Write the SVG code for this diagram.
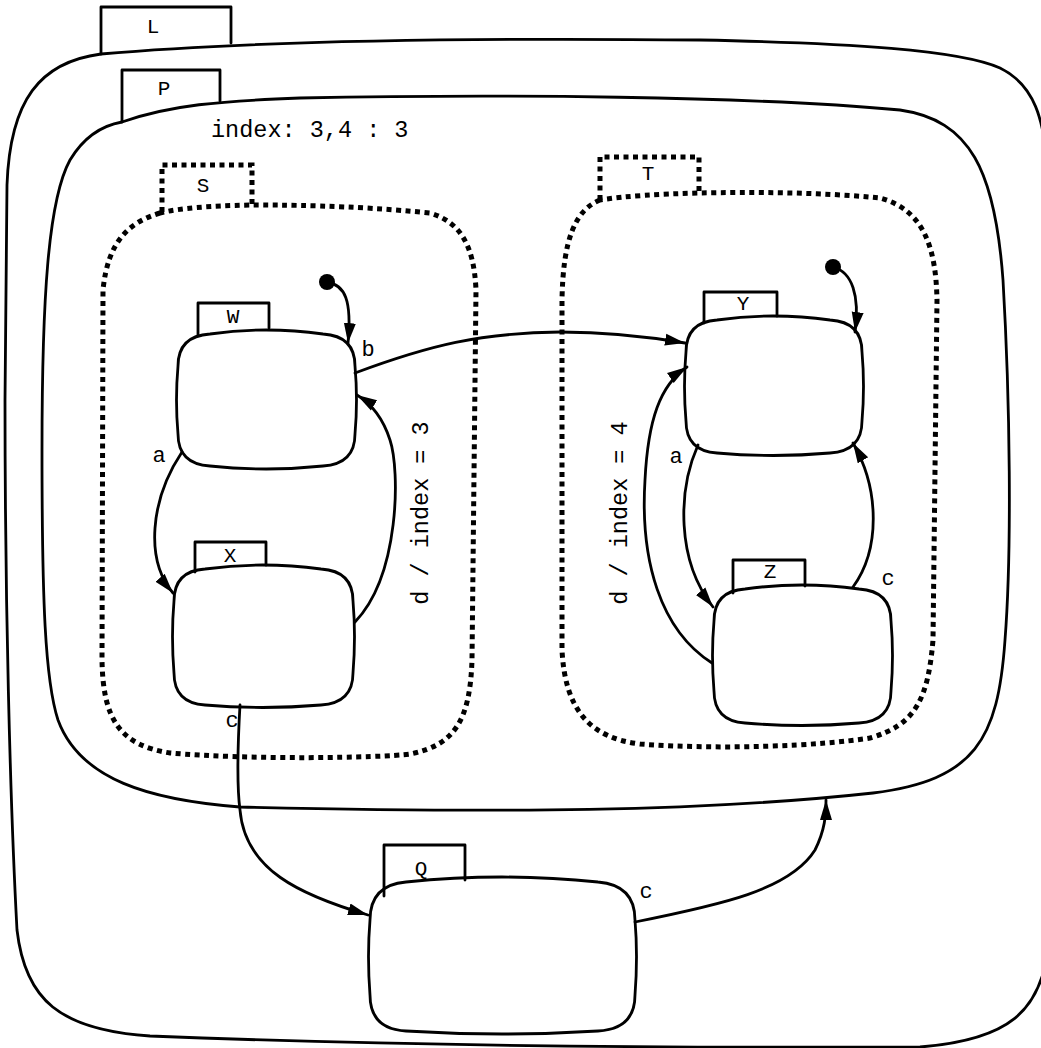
<svg xmlns="http://www.w3.org/2000/svg" width="1041" height="1048" viewBox="0 0 1041 1048">
<style>
.ln{fill:none;stroke:#000;stroke-width:2.8;stroke-linejoin:round;stroke-linecap:round}
.dt{fill:none;stroke:#000;stroke-width:5;stroke-dasharray:5 4.5}
.st{fill:#fff;stroke:#000;stroke-width:2.8}
.t{font-family:"Liberation Mono","Courier New",monospace;font-size:23.5px;fill:#000}
.tb{font-family:"Liberation Mono","Courier New",monospace;font-size:21px;fill:#000;text-anchor:middle}
.s{font-family:"Liberation Mono","Courier New",monospace;font-size:22px;fill:#000;text-anchor:middle}
</style>
<defs>
<marker id="ah" markerWidth="22" markerHeight="14" refX="20" refY="7" orient="auto" markerUnits="userSpaceOnUse"><path d="M0,1 L20,7 L0,13 Z" fill="#000"/></marker>
</defs>
<rect width="1041" height="1048" fill="#fff"/>

<g id="L">
<path class="ln" d="M101,54 C260,40 500,38 700,40 C850,43 960,50 1000,68 C1035,85 1044,120 1048,170 L1048,950 C1040,1010 1010,1040 920,1047 C700,1048 400,1046 150,1036 C60,1030 25,1000 17,930 C10,800 5,600 5,400 L7,185 C10,100 40,62 101,54 Z"/>
<path class="ln" d="M101,54 V7 H231 V43"/>
<text class="tb" x="153" y="33">L</text>
</g>

<g id="P">
<path class="ln" d="M122,122 C170,105 220,101 300,98 C500,94 750,96 900,110 C970,120 995,170 1003,280 C1010,400 1012,550 1005,640 C998,740 975,780 873,793 C700,812 500,813 240,807 C150,800 80,780 58,720 C45,680 42,600 42,450 C42,300 48,200 70,160 C85,135 105,125 122,122 Z"/>
<path class="ln" d="M122,122 V70 H220 V101"/>
<text class="tb" x="164" y="95">P</text>
<text class="t" x="211" y="137">index: 3,4 : 3</text>
</g>

<g id="S">
<path class="dt" d="M160,213 C130,222 108,240 103,290 L102,660 C103,720 120,745 170,753 C250,760 380,758 410,754 C455,745 470,720 472,660 L476,290 C474,245 460,222 430,213 C350,205 280,205 250,205 C210,206 180,208 160,213 Z"/>
<path class="dt" d="M162,212 V165 H252 V205"/>
<text class="tb" x="203" y="192">S</text>
</g>

<g id="T">
<path class="dt" d="M600,200 C575,210 563,240 562,300 L562,650 C565,710 590,738 640,744 C720,750 820,746 870,738 C915,725 928,700 933,640 L937,300 C936,250 925,210 880,198 C820,192 750,192 699,193 C660,194 625,196 600,200 Z"/>
<path class="dt" d="M600,200 V157 H699 V193"/>
<text class="tb" x="648" y="180">T</text>
</g>

<g id="W">
<path class="st" d="M210,334 Q266,326 323,334 Q355,336 355,366 Q358,400 355,434 Q355,464 323,466 Q266,472 210,466 Q178,464 178,434 Q175,400 178,366 Q178,336 210,334 Z"/>
<path class="ln" d="M198,335 V303 H269 V328"/>
<text class="tb" x="233" y="323">W</text>
</g>

<g id="X">
<path class="st" d="M205,569 Q262,561 321,569 Q353,571 353,601 Q356,636 353,673 Q353,703 321,705 Q262,710 205,705 Q174,703 174,673 Q171,636 174,601 Q174,571 205,569 Z"/>
<path class="ln" d="M195,572 V542 H266 V565"/>
<text class="tb" x="230" y="562">X</text>
</g>

<g id="Y">
<path class="st" d="M717,320 Q773,312 830,320 Q862,322 862,352 Q865,386 862,421 Q862,451 830,453 Q773,458 717,453 Q686,451 686,421 Q683,386 686,352 Q686,322 717,320 Z"/>
<path class="ln" d="M704,323 V292 H777 V316"/>
<text class="tb" x="743" y="310">Y</text>
</g>

<g id="Z">
<path class="st" d="M745,589 Q802,581 859,589 Q891,591 891,621 Q894,655 891,691 Q891,721 859,723 Q802,728 745,723 Q714,721 714,691 Q711,655 714,621 Q714,591 745,589 Z"/>
<path class="ln" d="M733,593 V560 H805 V586"/>
<text class="tb" x="770" y="578">Z</text>
</g>

<g id="Q">
<path class="st" d="M406,882 Q502,872 598,882 Q635,885 635,920 Q638,956 635,995 Q635,1029 598,1031 Q502,1037 406,1031 Q370,1029 370,995 Q367,956 370,920 Q370,885 406,882 Z"/>
<path class="ln" d="M384,896 V845 H465 V880"/>
<text class="tb" x="421" y="875">Q</text>
</g>

<g id="connectors">
<circle cx="327" cy="282" r="8" fill="#000"/>
<path class="ln" marker-end="url(#ah)" d="M327,282 C345,285 352,300 348,343"/>
<circle cx="833" cy="267" r="8" fill="#000"/>
<path class="ln" marker-end="url(#ah)" d="M833,267 C852,272 860,295 855,332"/>
<path class="ln" marker-end="url(#ah)" d="M355,373 C430,345 480,333 560,332 C610,332 650,337 685,343"/>
<text class="s" x="368" y="356">b</text>
<path class="ln" marker-end="url(#ah)" d="M182,452 C150,500 145,560 173,593"/>
<text class="s" x="159" y="462">a</text>
<path class="ln" marker-end="url(#ah)" d="M355,622 C400,575 400,470 390,440 C383,418 370,403 357,395"/>
<text class="t" text-anchor="middle" transform="translate(428,513) rotate(-90)">d / index = 3</text>
<path class="ln" marker-end="url(#ah)" d="M698,445 C678,490 676,560 713,607"/>
<text class="s" x="676" y="463">a</text>
<path class="ln" marker-end="url(#ah)" d="M853,587 C880,550 880,490 853,443"/>
<text class="s" x="888" y="585">c</text>
<path class="ln" marker-end="url(#ah)" d="M712,663 C660,630 640,560 645,480 C648,420 660,385 687,367"/>
<text class="t" text-anchor="middle" transform="translate(627,513) rotate(-90)">d / index = 4</text>
<path class="ln" marker-end="url(#ah)" d="M240,705 C238,740 236,780 240,810 C245,870 300,895 368,915"/>
<text class="s" x="232" y="727">c</text>
<path class="ln" marker-end="url(#ah)" d="M635,922 C720,905 790,890 815,850 C825,830 826,815 826,800"/>
<text class="s" x="646" y="898">c</text>
</g>
</svg>
